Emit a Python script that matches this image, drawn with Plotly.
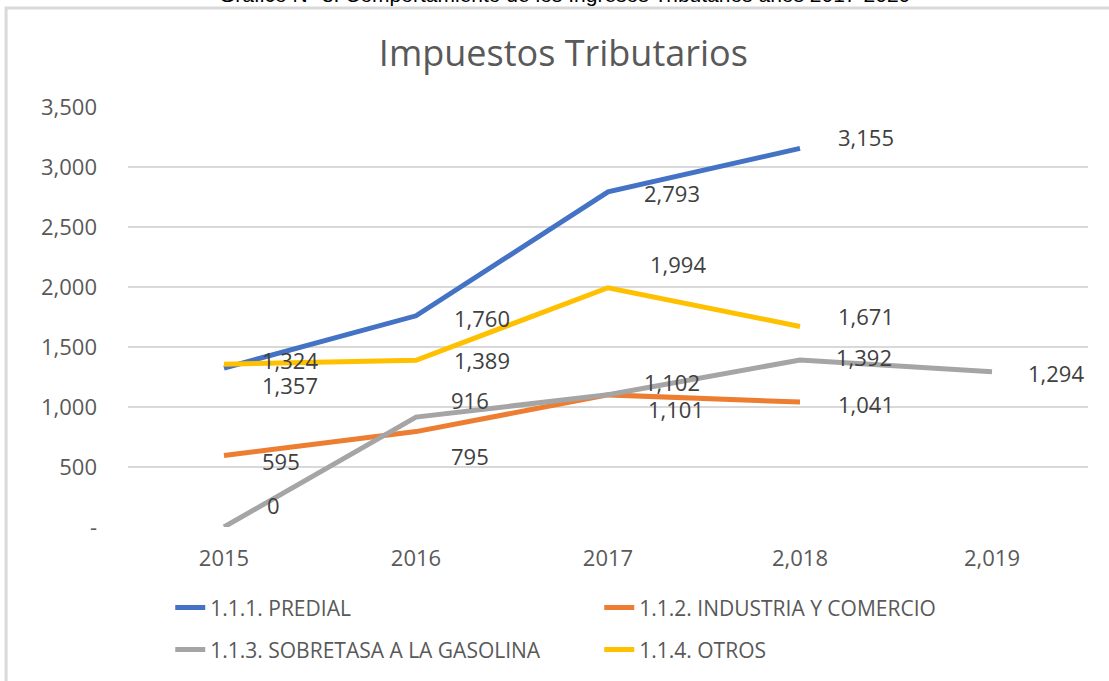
import plotly.graph_objects as go

# ---- data ----
years = ["2015", "2016", "2017", "2,018", "2,019"]
predial = [1324, 1760, 2793, 3155, None]
industria = [595, 795, 1101, 1041, None]
sobretasa = [0, 916, 1102, 1392, 1294]
otros = [1357, 1389, 1994, 1671, None]
y_tickvals = [0, 500, 1000, 1500, 2000, 2500, 3000, 3500]
y_ticktext = ["-", "500", "1,000", "1,500", "2,000", "2,500", "3,000", "3,500"]

series = [
    ("1.1.1. PREDIAL", predial, "#4472C4", "legend"),
    ("1.1.2. INDUSTRIA Y COMERCIO", industria, "#ED7D31", "legend"),
    ("1.1.3. SOBRETASA A LA GASOLINA", sobretasa, "#A5A5A5", "legend2"),
    ("1.1.4. OTROS", otros, "#FFC000", "legend2"),
]

# label offsets in px (style only): (xshift, yshift) per point
label_shifts = [
    [(66, 8), (66, -2), (64, -1), (66, 11), None],
    [(57, -5), (54, -24), (68, -14), (66, -2), None],
    [(49, 22), (54, 17), (64, 13), (64, 3), (64, -1)],
    [(66, -21), (66, 0), (70, 24), (66, 10), None],
]

FONT = "Open Sans"
GREY_TXT = "#595959"
LABEL_TXT = "#404040"

xpos = list(range(len(years)))

fig = go.Figure()
annotations = []
for (name, vals, color, lg), shifts in zip(series, label_shifts):
    fig.add_trace(go.Scatter(
        x=xpos, y=vals, name=name, mode="lines",
        line=dict(color=color, width=5),
        legend=lg, connectgaps=False,
    ))
    for x, v, s in zip(xpos, vals, shifts):
        if v is None or s is None:
            continue
        annotations.append(dict(
            x=x, y=v, xref="x", yref="y", text=f"{v:,}", showarrow=False,
            xanchor="center", yanchor="middle", xshift=s[0], yshift=s[1],
            font=dict(family=FONT, size=22, color=LABEL_TXT),
        ))

# cut-off page caption at very top
annotations.append(dict(
    x=0.455, y=1.236, xref="paper", yref="paper", xanchor="center", yanchor="bottom",
    text="Gráfico N° 8. Comportamiento de los Ingresos Tributarios años 2017-2020",
    showarrow=False, font=dict(family="Liberation Sans", size=21, color="#000000"),
))

fig.update_layout(
    width=1109, height=681,
    margin=dict(l=128, r=21, t=107, b=154, autoexpand=False),
    paper_bgcolor="white", plot_bgcolor="white",
    title=dict(text="Impuestos Tributarios", x=0.508, xanchor="center",
               y=1 - 53 / 681, yanchor="middle",
               font=dict(family=FONT, size=36, color=GREY_TXT)),
    annotations=annotations,
    showlegend=True,
    legend=dict(orientation="h", x=0.044, xanchor="left", y=-0.1925, yanchor="middle",
                entrywidth=384, entrywidthmode="pixels",
                font=dict(family=FONT, size=21, color=GREY_TXT), bgcolor="rgba(0,0,0,0)"),
    legend2=dict(orientation="h", x=0.044, xanchor="left", y=-0.2925, yanchor="middle",
                 entrywidth=384, entrywidthmode="pixels",
                 font=dict(family=FONT, size=21, color=GREY_TXT), bgcolor="rgba(0,0,0,0)"),
    shapes=[dict(type="rect", xref="paper", yref="paper",
                 x0=-0.127, x1=1.03, y0=-0.40, y1=1.2357,
                 line=dict(color="#D9D9D9", width=3), fillcolor="rgba(0,0,0,0)", layer="below")],
)
fig.update_xaxes(range=[-0.5, len(years) - 0.5], tickvals=xpos, ticktext=years,
                 showgrid=False, showline=False, zeroline=False,
                 ticks="", ticklabelstandoff=16,
                 tickfont=dict(family=FONT, size=22, color=GREY_TXT))
fig.update_yaxes(range=[0, 3500], tickvals=y_tickvals, ticktext=y_ticktext,
                 showgrid=True, gridcolor="#D9D9D9", gridwidth=2,
                 zeroline=False, showline=False, ticks="", ticklabelstandoff=30,
                 tickfont=dict(family=FONT, size=22, color=GREY_TXT))

fig.write_html("out.html", config={"displayModeBar": False},
               post_script="document.body.style.margin='0';")
